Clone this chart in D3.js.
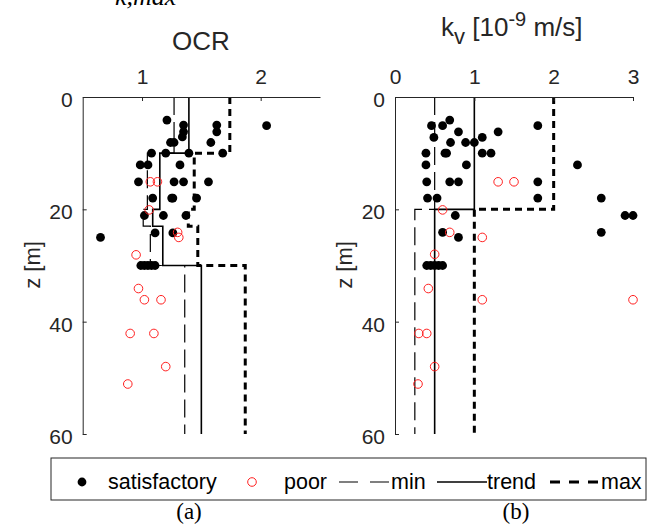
<!DOCTYPE html>
<html>
<head>
<meta charset="utf-8">
<script src="https://cdn.jsdelivr.net/npm/d3@7"></script>
<style>
  body { margin: 0; background: #fff; }
  svg { display: block; font-family: Arial, "Liberation Sans", sans-serif; }
  .axis path, .axis line { stroke: #262626; }
  .axis text { fill: #262626; font-size: 21px; font-family: Arial, "Liberation Sans", sans-serif; }
</style>
</head>
<body>
<div id="chart"></div>
<script>
// ---- data ----
// OCR panel: [OCR, z]
var ocrSatisfactory = [
  [1.21, 4.1], [1.35, 5.0], [1.35, 6.2], [1.34, 7.1], [1.63, 5.0], [1.63, 6.2], [2.05, 5.1],
  [1.24, 8.1], [1.27, 8.1], [1.58, 8.1], [1.08, 10], [1.20, 10], [1.395, 10], [1.68, 10],
  [0.985, 12.1], [1.05, 12.1], [1.32, 12.1], [0.97, 15.1], [1.27, 15.1], [1.35, 15.1], [1.56, 15.1],
  [1.09, 18], [1.25, 18], [1.26, 18], [1.46, 18], [1.02, 21.1], [1.18, 21.1], [1.37, 21.1],
  [0.65, 25], [1.11, 24.2], [1.26, 24.2],
  [0.99, 30], [1.02, 30], [1.05, 30], [1.08, 30], [1.11, 30]
];
var ocrPoor = [
  [1.07, 15.1], [1.13, 15.1], [1.06, 20.1], [1.30, 24.1], [1.31, 25], [0.95, 28.1],
  [0.97, 34.1], [1.02, 36.1], [1.16, 36.1], [0.90, 42.1], [1.10, 42.1], [1.20, 48], [0.88, 51.1]
];
var ocrDepth = [0, 10, 20, 23, 30, 60];
var ocrMin = [1.27, 1.045, 1.01, 1.07, 1.36];
var ocrTrend = [1.395, 1.15, 1.09, 1.175, 1.50];
var ocrMax = [1.74, 1.44, 1.39, 1.47, 1.87];
var ocrTicks = [1, 2];

// kv panel: [kv, z]
var kvSatisfactory = [
  [0.69, 4.1], [0.46, 5.1], [0.60, 5.1], [1.80, 5.1], [0.80, 6.2], [1.30, 6.2], [0.49, 7.2], [1.10, 7.2],
  [0.70, 8.1], [0.89, 8.1], [1.0, 8.1], [0.39, 10], [0.63, 10], [0.65, 10], [1.10, 10], [1.21, 10],
  [0.39, 12.1], [0.90, 12.1], [2.30, 12.1], [0.40, 15.1], [0.69, 15.1], [0.80, 15.1], [1.80, 15.1],
  [0.41, 18], [0.53, 18], [1.80, 18], [2.60, 18], [0.76, 21.1], [2.90, 21.1], [3.00, 21.1],
  [0.60, 24.1], [0.80, 25], [2.60, 24.1],
  [0.40, 30], [0.45, 30], [0.50, 30], [0.55, 30], [0.60, 30]
];
var kvPoor = [
  [1.30, 15.1], [1.50, 15.1], [0.60, 20.1], [0.69, 24.1], [1.10, 25], [0.50, 28],
  [0.42, 34.1], [1.10, 36.1], [3.0, 36.1], [0.30, 42.1], [0.40, 42.1], [0.50, 48], [0.29, 51.1]
];
var kvDepth = [0, 20, 60];
var kvMin = [0.5, 0.25];
var kvTrend = [1.0, 0.5];
var kvMax = [2.0, 1.0];
var kvTicks = [0, 1, 2, 3];

var zTicks = [0, 20, 40, 60];

// ---- drawing ----
var W = 655, H = 529;
var svg = d3.select('#chart').append('svg').attr('width', W).attr('height', H);

var yTop = 97, yBottom = 434;

// turn layer values into a step path
var stepPoints = function(depth, vals) {
  var pts = [];
  for (var i = 0; i < vals.length; i++) {
    pts.push([vals[i], depth[i]]);
    pts.push([vals[i], depth[i + 1]]);
  }
  return pts;
};

/**
 * Draw one panel.
 */
var drawPanel = function(opt) {
  var x = d3.scaleLinear().domain(opt.domain).range([opt.x0, opt.x1]);
  var y = d3.scaleLinear().domain([0, 60]).range([yTop, yBottom]);
  var g = svg.append('g');

  var line = d3.line().x(function(d) { return x(d[0]); }).y(function(d) { return y(d[1]); });

  // profiles
  g.append('path').attr('d', line(stepPoints(opt.depth, opt.min)))
    .attr('fill', 'none').attr('stroke', '#000').attr('stroke-width', 1.2)
    .attr('stroke-dasharray', '18,7');
  g.append('path').attr('d', line(stepPoints(opt.depth, opt.trend)))
    .attr('fill', 'none').attr('stroke', '#000').attr('stroke-width', 1.6);
  g.append('path').attr('d', line(stepPoints(opt.depth, opt.max)))
    .attr('fill', 'none').attr('stroke', '#000').attr('stroke-width', 3)
    .attr('stroke-dasharray', '7,5');

  // points
  g.selectAll('circle.sat').data(opt.sat).enter().append('circle')
    .attr('class', 'sat')
    .attr('cx', function(d) { return x(d[0]); }).attr('cy', function(d) { return y(d[1]); })
    .attr('r', 4.4).attr('fill', '#000');
  g.selectAll('circle.poor').data(opt.poor).enter().append('circle')
    .attr('class', 'poor')
    .attr('cx', function(d) { return x(d[0]); }).attr('cy', function(d) { return y(d[1]); })
    .attr('r', 4.3).attr('fill', 'none').attr('stroke', '#ff2020').attr('stroke-width', 1);

  // axes
  g.append('g').attr('class', 'axis').attr('transform', 'translate(0,' + yTop + ')')
    .call(d3.axisTop(x).tickValues(opt.ticks).tickFormat(d3.format('d'))
      .tickSizeInner(-4).tickSizeOuter(0).tickPadding(13));
  g.append('g').attr('class', 'axis').attr('transform', 'translate(' + opt.x0 + ',0)')
    .call(d3.axisLeft(y).tickValues(zTicks).tickSizeInner(-4).tickSizeOuter(0).tickPadding(10))
    .selectAll('text').attr('dy', '0.45em');

  // y label
  svg.append('text').attr('transform', 'translate(' + opt.ylabX + ',' + 265 + ') rotate(-90)')
    .attr('text-anchor', 'middle').attr('font-size', 22).attr('fill', '#262626')
    .text('z [m]');
};

drawPanel({ domain: [0.5, 2.5], x0: 82.7, x1: 320, ticks: ocrTicks,
  sat: ocrSatisfactory, poor: ocrPoor, depth: ocrDepth,
  min: ocrMin, trend: ocrTrend, max: ocrMax, ylabX: 40 });
drawPanel({ domain: [0, 3], x0: 395, x1: 633, ticks: kvTicks,
  sat: kvSatisfactory, poor: kvPoor, depth: kvDepth,
  min: kvMin, trend: kvTrend, max: kvMax, ylabX: 352 });

// titles
svg.append('text').attr('x', 201).attr('y', 50).attr('text-anchor', 'middle')
  .attr('font-size', 26).attr('fill', '#262626').text('OCR');

var kt = svg.append('text').attr('x', 441).attr('y', 36).attr('font-size', 26).attr('fill', '#262626');
kt.append('tspan').text('k');
kt.append('tspan').attr('dy', 8).attr('font-size', 22).text('v');
kt.append('tspan').attr('dy', -8).text(' [10');
kt.append('tspan').attr('dy', -10).attr('font-size', 20).text('-9');
kt.append('tspan').attr('dy', 10).text(' m/s]');

// clipped label at the very top
svg.append('text').attr('x', 115).attr('y', 5)
  .attr('font-family', '"Liberation Serif", "DejaVu Serif", serif').attr('font-style', 'italic')
  .attr('font-size', 26).attr('fill', '#000').text('k,max');

// legend
var leg = svg.append('g');
leg.append('rect').attr('x', 51).attr('y', 458).attr('width', 595).attr('height', 42)
  .attr('fill', '#fff').attr('stroke', '#262626').attr('stroke-width', 1);
var ly = 482;
leg.append('circle').attr('cx', 82).attr('cy', ly).attr('r', 4.4).attr('fill', '#000');
leg.append('circle').attr('cx', 252).attr('cy', ly).attr('r', 4.3).attr('fill', 'none')
  .attr('stroke', '#ff2020').attr('stroke-width', 1);
leg.append('line').attr('x1', 339).attr('x2', 390).attr('y1', ly).attr('y2', ly)
  .attr('stroke', '#000').attr('stroke-width', 1.2).attr('stroke-dasharray', '19,12');
leg.append('line').attr('x1', 437).attr('x2', 487).attr('y1', ly).attr('y2', ly)
  .attr('stroke', '#000').attr('stroke-width', 1.6);
leg.append('line').attr('x1', 550).attr('x2', 601).attr('y1', ly).attr('y2', ly)
  .attr('stroke', '#000').attr('stroke-width', 3).attr('stroke-dasharray', '10,9');
var legText = [['satisfactory', 108], ['poor', 284], ['min', 391], ['trend', 487], ['max', 601]];
leg.selectAll('text').data(legText).enter().append('text')
  .attr('x', function(d) { return d[1]; }).attr('y', ly + 7)
  .attr('font-size', 21.5).attr('fill', '#000').text(function(d) { return d[0]; });

// panel letters
svg.append('text').attr('x', 189).attr('y', 519).attr('text-anchor', 'middle')
  .attr('font-family', '"Times New Roman", "Liberation Serif", serif').attr('font-size', 23)
  .text('(a)');
svg.append('text').attr('x', 516).attr('y', 519).attr('text-anchor', 'middle')
  .attr('font-family', '"Times New Roman", "Liberation Serif", serif').attr('font-size', 23)
  .text('(b)');
</script>
</body>
</html>
